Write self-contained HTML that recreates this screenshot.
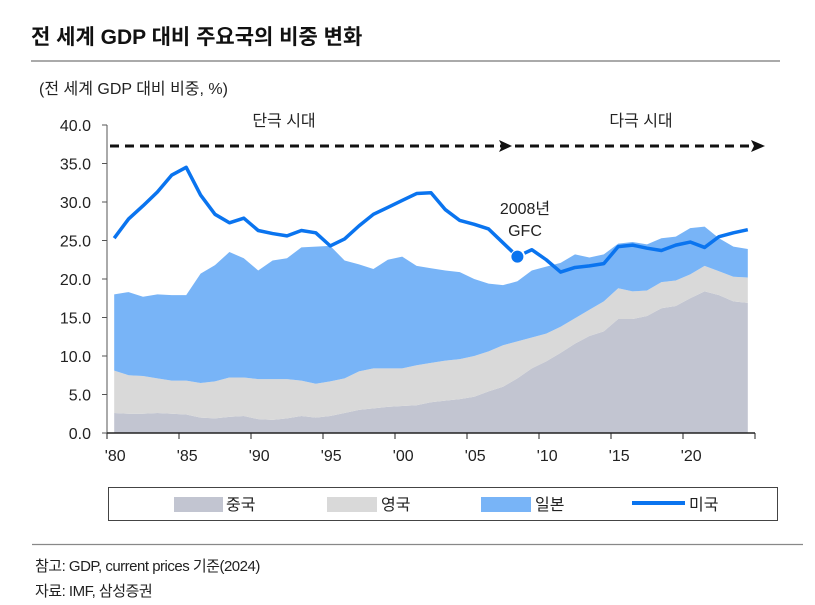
<!DOCTYPE html>
<html><head><meta charset="utf-8"><style>
body{margin:0;background:#fff;width:815px;height:605px;overflow:hidden;font-family:"Liberation Sans","Noto Sans CJK KR",sans-serif}
svg{display:block}
text{font-family:"Liberation Sans","Noto Sans CJK KR",sans-serif}
</style></head><body>
<svg id="chart" width="815" height="605">
<text x="31" y="44" font-size="21" font-weight="bold" fill="#111">전 세계 GDP 대비 주요국의 비중 변화</text>
<line x1="31" y1="61" x2="780" y2="61" stroke="#777" stroke-width="1.3"/>
<text x="39" y="94" font-size="16" fill="#222">(전 세계 GDP 대비 비중, %)</text>
<g id="areas"></g>
<g id="usline"></g>
<g id="axes"></g>
<g id="era">
<line x1="110" y1="146" x2="757" y2="146" stroke="#111" stroke-width="3" stroke-dasharray="9,6"/>
<polygon points="499,140 512,146 499,152 502,146" fill="#111"/>
<polygon points="751,140 765,146 751,152 754,146" fill="#111"/>
<text x="284" y="126" font-size="16" fill="#222" text-anchor="middle">단극 시대</text>
<text x="641" y="126" font-size="16" fill="#222" text-anchor="middle">다극 시대</text>
</g>
<text x="525" y="214" font-size="16" fill="#222" text-anchor="middle">2008년</text>
<text x="525" y="236" font-size="16" fill="#222" text-anchor="middle">GFC</text>
<g>
<rect x="108.5" y="487.5" width="669" height="33" fill="#fff" stroke="#444" stroke-width="1"/>
<rect x="174" y="497" width="49" height="15" fill="#c2c5d1"/>
<text x="226" y="510" font-size="16" fill="#222">중국</text>
<rect x="327" y="497" width="50" height="15" fill="#d9d9d9"/>
<text x="381" y="510" font-size="16" fill="#222">영국</text>
<rect x="481" y="497" width="50" height="15" fill="#78b4f7"/>
<text x="535" y="510" font-size="16" fill="#222">일본</text>
<line x1="632" y1="503" x2="685" y2="503" stroke="#0a74ef" stroke-width="4"/>
<text x="689" y="510" font-size="16" fill="#222">미국</text>
</g>
<line x1="32" y1="544.5" x2="803" y2="544.5" stroke="#888" stroke-width="1.3"/>
<text x="35" y="571" font-size="15" fill="#222" letter-spacing="-0.5">참고: GDP, current prices 기준(2024)</text>
<text x="35" y="596" font-size="15" fill="#222" letter-spacing="-0.5">자료: IMF, 삼성증권</text>
</svg>
<script>
const years=[];for(let y=1980;y<=2024;y++)years.push(y);
const china=[2.6,2.5,2.5,2.6,2.5,2.4,2.0,1.9,2.1,2.2,1.8,1.7,1.9,2.2,2.0,2.2,2.6,3.0,3.2,3.4,3.5,3.6,4.0,4.2,4.4,4.7,5.4,6.0,7.1,8.4,9.3,10.4,11.6,12.6,13.2,14.8,14.8,15.2,16.2,16.5,17.5,18.4,17.9,17.1,16.9];
const uk=[5.5,5.0,4.9,4.5,4.3,4.4,4.5,4.8,5.1,5.0,5.2,5.3,5.1,4.6,4.4,4.5,4.5,5.0,5.2,5.0,4.9,5.2,5.1,5.2,5.2,5.3,5.2,5.4,4.8,4.0,3.6,3.4,3.3,3.4,3.9,4.0,3.6,3.3,3.4,3.3,3.1,3.3,3.1,3.2,3.3];
const japan=[9.9,10.8,10.3,10.9,11.1,11.1,14.2,15.1,16.3,15.5,14.1,15.4,15.7,17.3,17.8,17.6,15.3,13.9,12.9,14.1,14.5,12.9,12.3,11.7,11.3,10.0,8.8,7.8,7.8,8.7,8.7,8.3,8.3,6.8,6.1,5.8,6.4,6.0,5.7,5.7,6.0,5.1,4.3,3.9,3.7];
const us=[25.3,27.8,29.5,31.3,33.5,34.5,30.9,28.4,27.3,27.9,26.3,25.9,25.6,26.3,26.0,24.3,25.2,26.9,28.4,29.3,30.2,31.1,31.2,29.0,27.6,27.1,26.5,24.7,22.9,23.8,22.5,20.9,21.5,21.7,22.0,24.2,24.4,24.0,23.7,24.4,24.8,24.1,25.5,26.0,26.4];
const yTicks=[0,5,10,15,20,25,30,35,40];
const xTickYears=[1980,1985,1990,1995,2000,2005,2010,2015,2020];
const xTickLabels=["'80","'85","'90","'95","'00","'05","'10","'15","'20"];
const gfcYear=2008;

const X0=107,X1=755,Y0=433,YT=125,YMAX=40;
const bw=(X1-X0)/years.length;
const xc=y=>X0+(years.indexOf(y)+0.5)*bw;
const xe=y=>X0+years.indexOf(y)*bw;
const yv=v=>Y0-(v/YMAX)*(Y0-YT);
const NS='http://www.w3.org/2000/svg';
function mk(t,a,p){const e=document.createElementNS(NS,t);for(const k in a)e.setAttribute(k,a[k]);p.appendChild(e);return e;}

const areas=document.getElementById('areas');
const base=years.map(()=>0);
const series=[[china,'#c2c5d1','area-china'],[uk,'#d9d9d9','area-uk'],[japan,'#78b4f7','area-japan']];
series.forEach(([vals,col,name])=>{
  const top=base.map((b,i)=>b+vals[i]);
  let d='M'+years.map((y,i)=>xc(y)+','+yv(top[i])).join(' L');
  for(let i=years.length-1;i>=0;i--)d+=' L'+xc(years[i])+','+yv(base[i]);
  d+='Z';
  const p=mk('path',{d:d,fill:col},areas);
  
  
  top.forEach((v,i)=>base[i]=v);
});

const ul=document.getElementById('usline');
const gi=years.indexOf(gfcYear);
const pre=years.slice(0,gi).map((y,i)=>xc(y)+','+yv(us[i])).join(' ');
const post=years.slice(gi+1).map((y,i)=>xc(y)+','+yv(us[gi+1+i])).join(' ');
const l1=mk('polyline',{points:pre+' '+(xc(years[gi])-5)+','+(yv(us[gi-1])+(yv(us[gi])-yv(us[gi-1]))*0.65),fill:'none',stroke:'#0a74ef','stroke-width':3.5,'stroke-linejoin':'round'},ul);


const l2=mk('polyline',{points:(xc(years[gi])+7)+','+(yv(us[gi])+(yv(us[gi+1])-yv(us[gi]))*0.5)+' '+post,fill:'none',stroke:'#0a74ef','stroke-width':3.5,'stroke-linejoin':'round'},ul);


const dot=mk('circle',{cx:xc(gfcYear),cy:yv(us[gi]),r:6,fill:'#0a74ef'},ul);



const ax=document.getElementById('axes');
const ya=mk('line',{x1:X0,y1:YT,x2:X0,y2:Y0,stroke:'#555','stroke-width':1},ax);


yTicks.forEach(v=>{
  const t=mk('line',{x1:X0-5,y1:yv(v),x2:X0,y2:yv(v),stroke:'#555','stroke-width':1},ax);
  
  
  const tx=mk('text',{x:91,y:yv(v)+6,'font-size':16,fill:'#222','text-anchor':'end'},ax);
  tx.textContent=v.toFixed(1);
  
  
});
const xa=mk('line',{x1:X0,y1:Y0,x2:X1,y2:Y0,stroke:'#222','stroke-width':1.5},ax);


xTickYears.forEach((y,i)=>{
  const t=mk('line',{x1:xe(y),y1:Y0,x2:xe(y),y2:Y0+6,stroke:'#222','stroke-width':1},ax);
  
  
  const tx=mk('text',{x:xc(y)+1,y:Y0+28,'font-size':16,fill:'#222','text-anchor':'middle'},ax);
  tx.textContent=xTickLabels[i];
  
  
});
const endT=mk('line',{x1:X1,y1:Y0,x2:X1,y2:Y0+6,stroke:'#222','stroke-width':1},ax);


</script>
</body></html>
